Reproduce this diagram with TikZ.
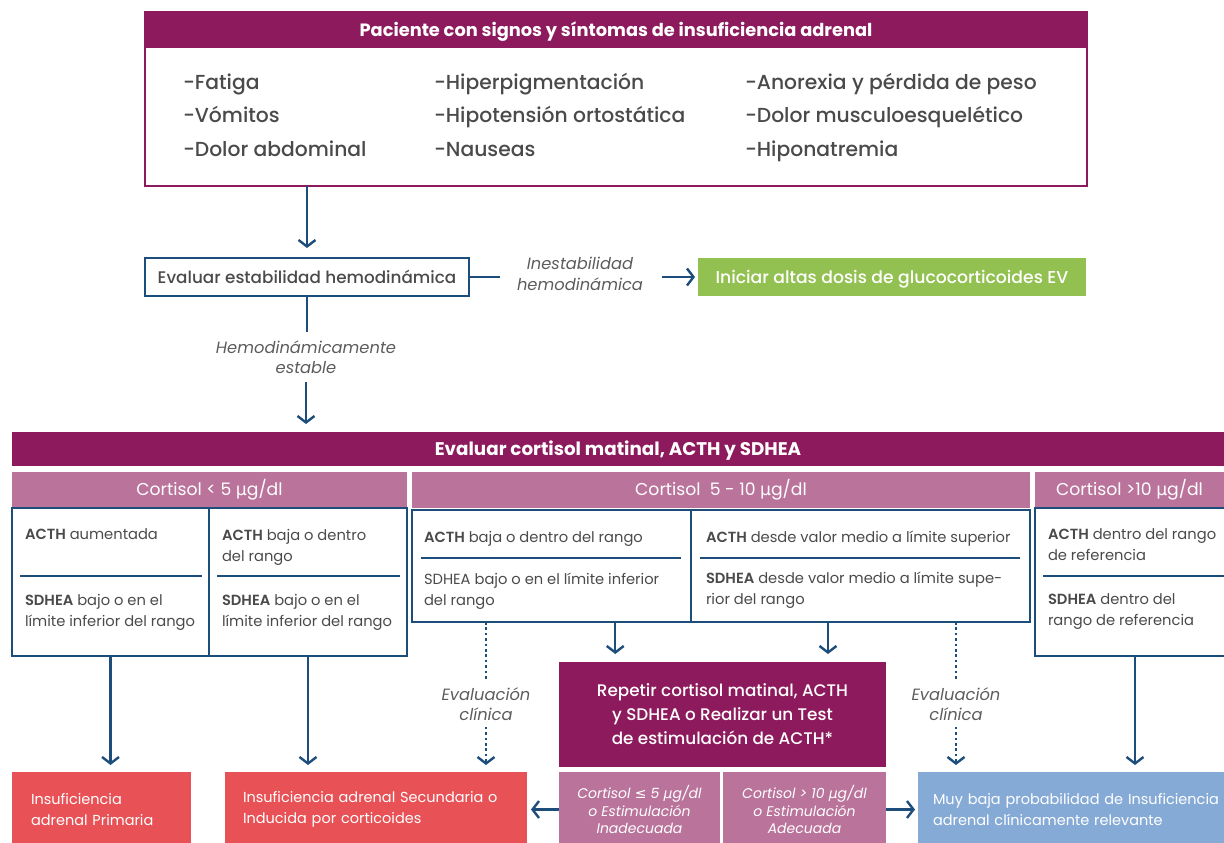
\documentclass[tikz,border=0pt]{standalone}
\usepackage{fontspec}
\setmainfont{Poppins}
\IfFontExistsTF{Poppins Medium}{\newfontfamily\medf{Poppins Medium}}{\newfontfamily\medf{Poppins}[FakeBold=0.6]}
\IfFontExistsTF{Poppins SemiBold}{\newfontfamily\semf{Poppins SemiBold}}{\newfontfamily\semf{Poppins}[FakeBold=1.2]}
\newfontfamily\symf{DejaVu Sans}
\usetikzlibrary{arrows.meta,calc}
\definecolor{mag}{HTML}{8C1A5C}
\definecolor{lmag}{HTML}{BA749C}
\definecolor{navy}{HTML}{1D4E7B}
\definecolor{redb}{HTML}{E85155}
\definecolor{grn}{HTML}{92C152}
\definecolor{lblue}{HTML}{86AAD6}
\definecolor{txt}{HTML}{4A4A4A}
\newcommand{\mug}{{\symf μ}g/dl}
\newcommand{\kw}[1]{{\semf #1}}
\tikzset{
  hdr/.style={fill=mag, text=white, font=\bfseries\fontsize{17.8}{22}\selectfont, anchor=north west, text height=12.5pt, text depth=0pt},
  subh/.style={fill=lmag, text=white, font=\fontsize{17.2}{20}\selectfont, anchor=north west},
  bbox/.style={draw=navy, line width=2pt, anchor=north west},
  btxt/.style={anchor=north west, align=left, text=txt, font=\fontsize{14.7}{21}\selectfont},
  sym/.style={anchor=base west, text=txt, font=\medf\fontsize{20.3}{24}\selectfont},
  lbl/.style={align=center, text=txt!90, font=\itshape\fontsize{16.3}{20.5}\selectfont},
  ln/.style={draw=navy, line width=2.4pt},
  arr/.style={ln, -{Straight Barb[length=6.5pt,width=17pt,line width=2.4pt]}},
  dotl/.style={ln, line width=2.6pt, dash pattern=on 2.6pt off 2.8pt},
  darr/.style={dotl, -{Straight Barb[length=6.5pt,width=17pt,line width=2.4pt]}},
  sep/.style={draw=navy, line width=2pt},
  outbox/.style={anchor=north west, text=white, align=left, font=\fontsize{14.5}{21}\selectfont, minimum height=75pt},
}
\begin{document}
\begin{tikzpicture}[x=1pt,y=-1pt, every node/.style={inner sep=0pt,outer sep=0pt}]
\useasboundingbox (0,0) rectangle (1224,843);
% top box
\node[draw=mag, line width=2pt, minimum width=942pt, minimum height=174pt, anchor=north west] (top) at (145,12) {};
\node[hdr, minimum width=942pt, minimum height=36pt] (toph) at (145,12) {Paciente con signos y síntomas de insuficiencia adrenal};
\node[sym] (s11) at (183,89) {-Fatiga};
\node[sym] (s12) at (183,122.5) {-Vómitos};
\node[sym] (s13) at (183,156) {-Dolor abdominal};
\node[sym] (s21) at (434,89) {-Hiperpigmentación};
\node[sym] (s22) at (434,122.5) {-Hipotensión ortostática};
\node[sym] (s23) at (434,156) {-Nauseas};
\node[sym] (s31) at (745,89) {-Anorexia y pérdida de peso};
\node[sym] (s32) at (745,122.5) {-Dolor musculoesquelético};
\node[sym] (s33) at (745,156) {-Hiponatremia};
% evaluar
\node[bbox, minimum width=324pt, minimum height=38pt, text=txt, font=\medf\fontsize{16.8}{20}\selectfont] (ev) at (145,258) {Evaluar estabilidad hemodinámica};
\node[anchor=north west, fill=grn, text=white, minimum width=388pt, minimum height=38pt, text height=12pt, text depth=0pt, font=\medf\fontsize{17.2}{20}\selectfont] (gr) at (698,258) {Iniciar altas dosis de glucocorticoides EV};
\node[lbl] (inl) at (580,274) {Inestabilidad\\hemodinámica};
\draw[ln, shorten >=17pt] (ev.east) -- (ev.east -| inl.west);
\draw[arr, shorten <=19pt, shorten >=3pt] (inl.east |- gr.west) -- (gr.west);
\draw[arr, shorten >=10pt] (top.south -| ev.north) -- (ev.north);
\node[lbl] (hel) at (306,357) {Hemodinámicamente\\estable};
% cortisol band
\node[hdr, minimum width=1212pt, minimum height=34pt, font=\bfseries\fontsize{18.3}{22}\selectfont] (ch) at (12,432) {Evaluar cortisol matinal, ACTH y SDHEA};
\draw[ln, shorten >=8pt] (ev.south) -- (ev.south |- hel.north);
\draw[arr, shorten <=8pt, shorten >=8pt] (hel.south) -- (hel.south |- ch.north);
\node[subh, minimum width=395pt, minimum height=36pt] (sa) at (12,472) {Cortisol < 5 \mug};
\node[subh, minimum width=618pt, minimum height=36pt] (sb) at (412,472) {Cortisol\ \ 5 - 10 \mug};
\node[subh, minimum width=189pt, minimum height=36pt] (sc) at (1035,472) {Cortisol >10 \mug};
% boxes
\node[bbox, minimum width=197pt, minimum height=148pt] (a1) at (12,508) {};
\node[bbox, minimum width=198pt, minimum height=148pt] (a2) at (209,508) {};
\node[bbox, minimum width=279pt, minimum height=112pt] (b1) at (412,510) {};
\node[bbox, minimum width=339pt, minimum height=112pt] (b2) at (691,510) {};
\node[bbox, minimum width=200pt, minimum height=148pt] (c1) at (1035,508) {};
\draw[sep] (20,576) -- (202,576);
\draw[sep] (217,576) -- (400,576);
\draw[sep] (421,558) -- (681,558);
\draw[sep] (700,558) -- (1020,558);
\draw[sep] (1043,576) -- (1230,576);
\node[btxt] (ta1) at (25,529) {\kw{ACTH} aumentada};
\node[btxt] (ta1b) at (25,594) {\kw{SDHEA} bajo o en el\\límite inferior del rango};
\node[btxt] (ta2) at (222,529) {\kw{ACTH} baja o dentro\\del rango};
\node[btxt] (ta2b) at (222,594) {\kw{SDHEA} bajo o en el\\límite inferior del rango};
\node[btxt] (tb1) at (424,531) {\kw{ACTH} baja o dentro del rango};
\node[btxt] (tb1b) at (424,573) {SDHEA bajo o en el límite inferior\\del rango};
\node[btxt] (tb2) at (706,531) {\kw{ACTH} desde valor medio a límite superior};
\node[btxt] (tb2b) at (706,572) {\kw{SDHEA} desde valor medio a límite supe-\\rior del rango};
\node[btxt] (tc1) at (1048,529) {\kw{ACTH} dentro del rango\\de referencia};
\node[btxt] (tc1b) at (1048,594) {\kw{SDHEA} dentro del\\rango de referencia};
% repetir
\node[anchor=north west, fill=mag, text=white, align=center, minimum width=327pt, minimum height=105pt, font=\medf\fontsize{16.8}{24}\selectfont] (rep) at (559,662) {Repetir cortisol matinal, ACTH\\y SDHEA o Realizar un Test\\de estimulación de ACTH*};
\node[anchor=north west, fill=lmag, text=white, align=center, minimum width=161pt, minimum height=75pt, font=\itshape\fontsize{14}{17.5}\selectfont] (ra) at (559,772) {Cortisol {\symf ≤} 5 \mug\\o Estimulación\\Inadecuada};
\node[anchor=north west, fill=lmag, text=white, align=center, minimum width=163pt, minimum height=75pt, font=\itshape\fontsize{14}{17.5}\selectfont] (rb) at (723,772) {Cortisol > 10 \mug\\o Estimulación\\Adecuada};
\coordinate (r1) at ($(rep.north west)!0.172!(rep.north east)$);
\coordinate (r2) at ($(rep.north west)!0.8226!(rep.north east)$);
\draw[arr, shorten >=8pt] (b1.south -| r1) -- (r1);
\draw[arr, shorten >=8pt] (b2.south -| r2) -- (r2);
% outcomes
\node[outbox, fill=redb, inner xsep=19pt, text width=141pt] (prim) at (12,772) {Insuficiencia\\adrenal Primaria};
\node[outbox, fill=redb, inner xsep=18pt, text width=266pt] (sec) at (225,772) {Insuficiencia adrenal Secundaria o\\Inducida por corticoides};
\node[outbox, fill=lblue, inner xsep=15pt, text width=300pt] (muy) at (918,772) {Muy baja probabilidad de Insuficiencia\\adrenal clínicamente relevante};
\draw[arr, shorten >=7pt] (a1.south) -- (a1.south |- prim.north);
\draw[arr, shorten >=7pt] (a2.south) -- (a2.south |- sec.north);
\draw[arr, shorten >=7pt] (c1.south) -- (c1.south |- muy.north);
\draw[arr, shorten >=4pt] (ra.west) -- (sec.east);
\draw[arr, shorten >=3pt] (rb.east) -- (muy.west);
% clinical evaluation
\node[lbl] (ev1) at (486,704) {Evaluación\\clínica};
\node[lbl] (ev2) at (956,704) {Evaluación\\clínica};
\draw[dotl, shorten >=6pt] (b1.south -| ev1) -- (ev1.north);
\draw[darr, shorten <=6pt, shorten >=7pt] (ev1.south) -- (ev1.south |- sec.north);
\draw[dotl, shorten >=6pt] (b2.south -| ev2) -- (ev2.north);
\draw[darr, shorten <=6pt, shorten >=7pt] (ev2.south) -- (ev2.south |- muy.north);
\end{tikzpicture}
\end{document}
